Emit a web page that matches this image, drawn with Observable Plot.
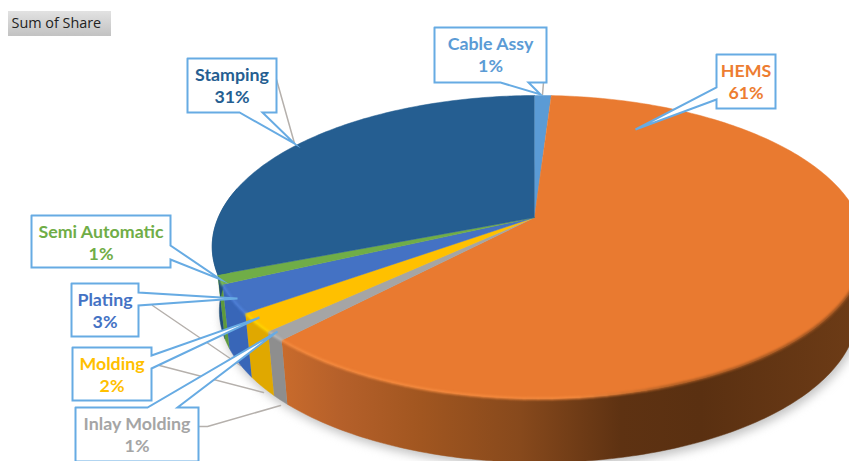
<!DOCTYPE html>
<html>
<head>
<meta charset="utf-8">
<style>
  html, body { margin: 0; padding: 0; background: #fff; }
  svg { display: block; }
</style>
<script src="https://cdn.jsdelivr.net/npm/d3@7"></script>
<script src="https://cdn.jsdelivr.net/npm/@observablehq/plot@0.6"></script>
</head>
<body>
<div id="chart"></div>
<script>
// Share of each product line, clockwise from twelve o'clock
const categories = ["Cable Assy", "HEMS", "Inlay Molding", "Molding", "Plating", "Semi Automatic", "Stamping"];
const shares = [1, 61, 1, 2, 3, 1, 31];

// Slice colours
const labelColors = ["#5b9bd5", "#ed7d31", "#a5a5a5", "#ffc000", "#4472c4", "#70ad47", "#255e91"];
const topColors = ["#5b9bd5", "#e97a30", "#a5a5a5", "#ffc000", "#4472c4", "#70ad47", "#255e91"];
const wallColors = ["#4a80b0", "url(#hems-wall)", "#8e8e8e", "#e0a800", "#3866b8", "#5e9a3c", "#1f4e79"];
const rimColors = ["#6aa9e0", "#f58a3e", "#b8b8b8", "#ffd400", "#4f80d8", "#7fc050", "#255e91"];

// Stops of the long front wall, darkening towards the right
const wallStopX = [281, 340, 420, 520, 620, 700, 849];
const wallStopColor = ["#c96b2c", "#b5602a", "#a15620", "#87491c", "#5e3212", "#5a3011", "#6c3b16"];

// Callout boxes and the points their tails reach
const boxLeft = [434, 716, 75, 72, 71, 31, 187];
const boxRight = [546, 775, 198, 151, 138, 170, 276];
const boxTop = [27, 54, 407, 347, 283, 215, 58];
const boxBottom = [82, 108, 461, 400, 336, 267, 112];
const tailStart = [[500, 82], [716, 87], [147, 407], [151, 355], [138, 292], [170, 245], [239, 112]];
const tailTip = [[540, 94], [635, 129], [277, 331], [259, 317], [237, 298], [220, 279], [294, 143]];
const tailEnd = [[528, 82], [716, 99], [177, 407], [151, 368], [138, 305], [170, 259], [262, 112]];

// Thin grey leader lines running from each box to the rim
const leaderFrom = [[543, 82], null, [198, 426], [159, 365], [152, 305], null, [276, 79]];
const leaderElbow = [null, null, [207, 426], null, null, null, null];
const leaderTo = [[542, 94], null, [280, 405], [263, 392], [240, 365], null, [294, 143]];

// Perspective projection of the unit disc onto the chart plane
const apex = {x: 534, y: 217};
const radiusX = 320, radiusY = 145.8, tiltY = -0.1947, tiltX = -0.012;
const depth = 64, baseScale = 0.978, baseCenterX = 537;

const rad = d => d * Math.PI / 180;
function topPoint(deg) {
  const u = Math.sin(rad(deg)), v = -Math.cos(rad(deg));
  const w = 1 + tiltY * v + tiltX * u;
  return {x: apex.x + radiusX * u / w, y: apex.y + radiusY * v / w};
}
function basePoint(deg) {
  const p = topPoint(deg);
  return {x: baseCenterX + (p.x - baseCenterX) * baseScale, y: p.y + depth};
}
const range = (a, b, step = 1) => {
  const n = Math.max(1, Math.ceil(Math.abs(b - a) / step));
  return d3.range(n + 1).map(i => a + (b - a) * i / n);
};

// Slice extents in degrees, from the share values
const total = d3.sum(shares);
const ends = d3.cumsum(shares).map(s => s / total * 360);
const slices = categories.map((name, i) => ({
  name, share: shares[i], start: i ? ends[i - 1] : 0, end: ends[i], i
}));

// Faces of the pie, each a closed outline tagged with an id and its colour
const topFaces = slices.flatMap(s => {
  const outline = [apex, ...range(s.start, s.end).map(topPoint)];
  return outline.map(p => ({...p, id: s.name, color: topColors[s.i]}));
});

const walls = slices.flatMap(s => {
  const a = Math.max(s.start, 85), b = Math.min(s.end, 282);
  if (a >= b) return [];
  const stops = range(a, b);
  const outline = [...stops.map(topPoint), ...stops.slice().reverse().map(basePoint)];
  return outline.map(p => ({...p, id: s.name, color: wallColors[s.i]}));
});

// Highlight along the front edge of the top face
const rimTone = d3.scaleLinear().domain([281, 580, 680, 849])
  .range(["#f58a3e", "#f58a3e", "#a85a22", "#96501f"]).clamp(true);
const rimSegments = slices.flatMap(s => {
  const a = Math.max(s.start, 88), b = Math.min(s.end, 246);
  if (a >= b) return [];
  const stops = range(a, b, 2);
  return stops.slice(1).flatMap((deg, k) => {
    const p0 = topPoint(stops[k]), p1 = topPoint(deg);
    const color = s.name === "HEMS" ? rimTone(p0.x) : rimColors[s.i];
    return [p0, p1].map(p => ({...p, id: `${s.name}-${k}`, color}));
  });
});

const shadow = range(0, 360, 2).map(basePoint).map(p => ({x: p.x + 2, y: p.y + 5}));

// Callouts
const callouts = slices.flatMap(s => {
  const i = s.i, L = boxLeft[i], R = boxRight[i], T = boxTop[i], B = boxBottom[i];
  const start = tailStart[i], tip = tailTip[i], end = tailEnd[i];
  let outline;
  if (start[1] === B) {          // tail leaves the bottom edge
    outline = [[L, T], [R, T], [R, B], end, tip, start, [L, B], [L, T]];
  } else if (start[1] === T) {   // tail leaves the top edge
    outline = [[L, T], start, tip, end, [R, T], [R, B], [L, B], [L, T]];
  } else if (start[0] === R) {   // tail leaves the right edge
    outline = [[L, T], [R, T], start, tip, end, [R, B], [L, B], [L, T]];
  } else {                       // tail leaves the left edge
    outline = [[L, T], [R, T], [R, B], [L, B], end, tip, start, [L, T]];
  }
  return outline.map(([x, y]) => ({x, y, id: s.name}));
});

const leaders = slices.flatMap(s => {
  const i = s.i;
  if (!leaderFrom[i]) return [];
  return [leaderFrom[i], leaderElbow[i], leaderTo[i]].filter(Boolean)
    .map(([x, y]) => ({x, y, id: s.name}));
});

const labels = slices.map(s => ({
  x: (boxLeft[s.i] + boxRight[s.i]) / 2,
  y: boxTop[s.i] + 6,
  text: `${s.name}\n${s.share}%`,
  color: labelColors[s.i]
}));

const button = [{x1: 8, x2: 111, y1: 11, y2: 36, x: 11, y: 23, text: "Sum of Share"}];

const chart = Plot.plot({
  width: 849,
  height: 461,
  margin: 0,
  x: {domain: [0, 849], range: [0, 849], axis: null},
  y: {domain: [0, 461], range: [0, 461], axis: null},
  marks: [
    () => {
      const defs = d3.create("svg:defs");
      const b = defs.append("linearGradient").attr("id", "button-fill")
        .attr("x1", 0).attr("x2", 0).attr("y1", 0).attr("y2", 1);
      b.append("stop").attr("offset", 0).attr("stop-color", "#e2e2e2");
      b.append("stop").attr("offset", 1).attr("stop-color", "#c2c2c2");
      const x0 = wallStopX[0], x1 = wallStopX[wallStopX.length - 1];
      const w = defs.append("linearGradient").attr("id", "hems-wall")
        .attr("gradientUnits", "userSpaceOnUse")
        .attr("x1", x0).attr("x2", x1).attr("y1", 0).attr("y2", 0);
      wallStopX.forEach((x, i) => {
        w.append("stop").attr("offset", (x - x0) / (x1 - x0)).attr("stop-color", wallStopColor[i]);
      });
      return defs.node();
    },
    Plot.rect(button, {x1: "x1", x2: "x2", y1: "y1", y2: "y2", fill: "url(#button-fill)"}),
    Plot.text(button, {
      x: "x", y: "y", text: "text", textAnchor: "start", fill: "#222",
      fontFamily: "Open Sans", fontSize: 14.4
    }),
    // Soft shadow under the base
    Plot.line(shadow, {x: "x", y: "y", fill: "#c4c4c4", stroke: "none", imageFilter: "blur(5px)"}),
    // Leader lines sit behind the pie
    Plot.line(leaders, {x: "x", y: "y", z: "id", stroke: "#b5b0ac", strokeWidth: 1.5}),
    // Walls, then top faces, then rim highlight
    Plot.line(walls, {x: "x", y: "y", z: "id", fill: "color", stroke: "color", strokeWidth: 0.5}),
    Plot.line(topFaces, {x: "x", y: "y", z: "id", fill: "color", stroke: "color", strokeWidth: 0.5}),
    Plot.line(rimSegments, {x: "x", y: "y", z: "id", stroke: "color", strokeWidth: 2.5, imageFilter: "blur(0.8px)"}),
    // Callouts and their text
    Plot.line(callouts, {
      x: "x", y: "y", z: "id", fill: "#fff", stroke: "#67abe3", strokeWidth: 2,
      strokeLinejoin: "miter", strokeMiterlimit: 10
    }),
    Plot.text(labels, {
      x: "x", y: "y", text: "text", fill: "color", lineAnchor: "top", lineHeight: 1.28,
      fontFamily: "Lato", fontWeight: 700, fontSize: 17.8
    })
  ]
});
document.getElementById("chart").append(chart);
</script>
</body>
</html>
